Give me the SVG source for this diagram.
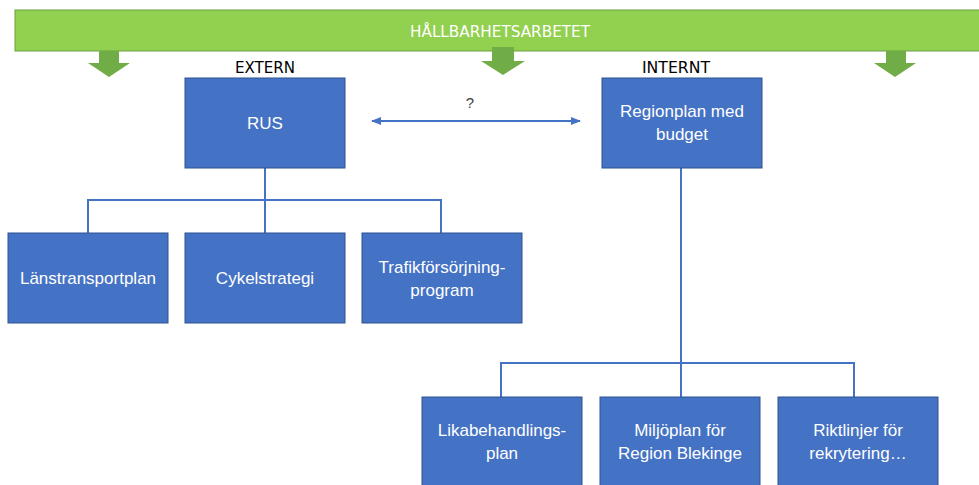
<svg xmlns="http://www.w3.org/2000/svg" width="979" height="485" viewBox="0 0 979 485">
<defs>
<style>
.box{fill:#4472C4;stroke:#2F528F;stroke-width:1}
.bt{font-family:"Liberation Sans",Arial,sans-serif;font-size:17px;fill:#FFFFFF;text-anchor:middle}
.lbl{font-family:"DejaVu Sans Condensed","Liberation Sans",sans-serif;font-size:16px;fill:#000000;text-anchor:middle}
.conn{stroke:#4472C4;stroke-width:2;fill:none}
.garrow{fill:#70AD47}
</style>
<marker id="ah" viewBox="0 0 10 10" refX="9" refY="5" markerWidth="5" markerHeight="5" orient="auto-start-reverse" markerUnits="strokeWidth">
<path d="M0,1 L10,5 L0,9 z" fill="#4472C4"/>
</marker>
</defs>
<rect width="979" height="485" fill="#FFFFFF"/>
<g id="banner">
<rect x="15" y="10" width="970" height="41" fill="#92D050" stroke="#6E9E3C" stroke-width="1"/>
<text x="500" y="37" font-family="'DejaVu Sans Condensed','Liberation Sans',sans-serif" font-size="15" fill="#FFFFFF" text-anchor="middle" textLength="180" lengthAdjust="spacingAndGlyphs">HÅLLBARHETSARBETET</text>
</g>
<g id="green-arrows">
<path class="garrow" d="M99,51 H119 V63 H130 L109,77 L88,63 H99 Z"/>
<path class="garrow" d="M492,47 H514 V61 H525 L503,75 L481,61 H492 Z"/>
<path class="garrow" d="M886,51 H906 V63 H916 L895,77 L874,63 H886 Z"/>
</g>
<g id="label-extern"><text class="lbl" x="265" y="73" textLength="60" lengthAdjust="spacingAndGlyphs">EXTERN</text></g>
<g id="label-internt"><text class="lbl" x="676" y="73" textLength="68" lengthAdjust="spacingAndGlyphs">INTERNT</text></g>
<g id="connectors">
<line class="conn" x1="372" y1="121" x2="580" y2="121" marker-start="url(#ah)" marker-end="url(#ah)"/>
<text x="470" y="108" font-family="'Liberation Sans',Arial,sans-serif" font-size="15" fill="#404040" text-anchor="middle">?</text>
<path class="conn" d="M265,168 V233 M88,233 V200 H441 V233"/>
<path class="conn" d="M681,168 V397 M501,397 V363 H854 V397"/>
</g>
<g id="rus"><rect class="box" x="185" y="78" width="160" height="90"/><text class="bt" x="265" y="129">RUS</text></g>
<g id="regionplan"><rect class="box" x="602" y="78" width="160" height="90"/><text class="bt" x="682" y="117">Regionplan med</text><text class="bt" x="682" y="140">budget</text></g>
<g id="lanstransportplan"><rect class="box" x="8" y="233" width="160" height="90"/><text class="bt" x="88" y="284">Länstransportplan</text></g>
<g id="cykelstrategi"><rect class="box" x="185" y="233" width="160" height="90"/><text class="bt" x="265" y="284">Cykelstrategi</text></g>
<g id="trafikforsorjning"><rect class="box" x="362" y="233" width="160" height="90"/><text class="bt" x="442" y="273">Trafikförsörjning-</text><text class="bt" x="442" y="296">program</text></g>
<g id="likabehandling"><rect class="box" x="422" y="397" width="160" height="92"/><text class="bt" x="502" y="436">Likabehandlings-</text><text class="bt" x="502" y="459">plan</text></g>
<g id="miljoplan"><rect class="box" x="600" y="397" width="160" height="92"/><text class="bt" x="680" y="436">Miljöplan för</text><text class="bt" x="680" y="459">Region Blekinge</text></g>
<g id="riktlinjer"><rect class="box" x="778" y="397" width="160" height="92"/><text class="bt" x="858" y="436">Riktlinjer för</text><text class="bt" x="858" y="459">rekrytering…</text></g>
</svg>
